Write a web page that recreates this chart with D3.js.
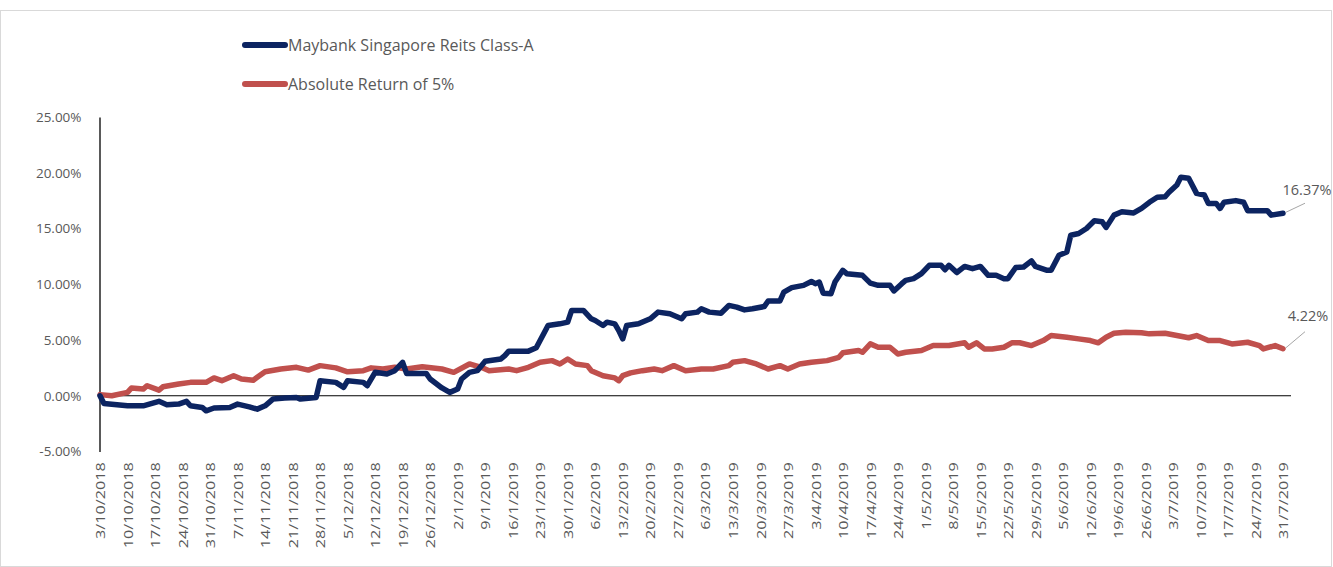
<!DOCTYPE html>
<html>
<head>
<meta charset="utf-8">
<script src="https://cdn.jsdelivr.net/npm/d3@7"></script>
<style>
  html, body { margin: 0; padding: 0; background: #fff; }
  svg { display: block; }
  text { font-family: "Open Sans", "Noto Sans", sans-serif; fill: #595959; }
</style>
</head>
<body>
<svg id="chart" width="1333" height="567"></svg>
<script>
// ---- data (values in %) ----
const seriesNames = ["Maybank Singapore Reits Class-A", "Absolute Return of 5%"];

const tickLabels = ["3/10/2018","10/10/2018","17/10/2018","24/10/2018","31/10/2018","7/11/2018","14/11/2018","21/11/2018","28/11/2018","5/12/2018","12/12/2018","19/12/2018","26/12/2018","2/1/2019","9/1/2019","16/1/2019","23/1/2019","30/1/2019","6/2/2019","13/2/2019","20/2/2019","27/2/2019","6/3/2019","13/3/2019","20/3/2019","27/3/2019","3/4/2019","10/4/2019","17/4/2019","24/4/2019","1/5/2019","8/5/2019","15/5/2019","22/5/2019","29/5/2019","5/6/2019","12/6/2019","19/6/2019","26/6/2019","3/7/2019","10/7/2019","17/7/2019","24/7/2019","31/7/2019"];

const yTicks = [-5, 0, 5, 10, 15, 20, 25];

const maybankDates = ["2018-10-03","2018-10-04","2018-10-10","2018-10-14","2018-10-18","2018-10-20","2018-10-23","2018-10-25","2018-10-26","2018-10-29","2018-10-30","2018-11-01","2018-11-05","2018-11-07","2018-11-10","2018-11-12","2018-11-14","2018-11-16","2018-11-19","2018-11-22","2018-11-23","2018-11-27","2018-11-28","2018-12-02","2018-12-04","2018-12-05","2018-12-09","2018-12-10","2018-12-12","2018-12-15","2018-12-17","2018-12-19","2018-12-20","2018-12-25","2018-12-26","2018-12-29","2018-12-31","2019-01-02","2019-01-03","2019-01-05","2019-01-07","2019-01-09","2019-01-13","2019-01-14","2019-01-15","2019-01-20","2019-01-22","2019-01-25","2019-01-28","2019-01-30","2019-01-31","2019-02-03","2019-02-05","2019-02-06","2019-02-08","2019-02-09","2019-02-11","2019-02-12","2019-02-13","2019-02-14","2019-02-17","2019-02-20","2019-02-22","2019-02-25","2019-02-28","2019-03-01","2019-03-04","2019-03-05","2019-03-07","2019-03-10","2019-03-12","2019-03-14","2019-03-16","2019-03-18","2019-03-21","2019-03-22","2019-03-25","2019-03-26","2019-03-28","2019-03-31","2019-04-02","2019-04-03","2019-04-04","2019-04-05","2019-04-07","2019-04-08","2019-04-10","2019-04-11","2019-04-15","2019-04-17","2019-04-19","2019-04-22","2019-04-23","2019-04-25","2019-04-26","2019-04-28","2019-04-30","2019-05-02","2019-05-05","2019-05-06","2019-05-07","2019-05-09","2019-05-11","2019-05-13","2019-05-15","2019-05-17","2019-05-19","2019-05-21","2019-05-22","2019-05-24","2019-05-26","2019-05-28","2019-05-29","2019-06-01","2019-06-02","2019-06-04","2019-06-06","2019-06-07","2019-06-09","2019-06-11","2019-06-13","2019-06-15","2019-06-16","2019-06-18","2019-06-20","2019-06-23","2019-06-25","2019-06-27","2019-06-29","2019-07-01","2019-07-02","2019-07-04","2019-07-05","2019-07-07","2019-07-09","2019-07-11","2019-07-12","2019-07-14","2019-07-15","2019-07-16","2019-07-19","2019-07-21","2019-07-22","2019-07-27","2019-07-28","2019-07-31"];

const maybankValues = [0.0,-0.7,-0.9,-0.9,-0.5,-0.8,-0.75,-0.5,-0.9,-1.05,
 -1.35,-1.1,-1.05,-0.75,-1.0,-1.2,-0.9,-0.3,-0.2,-0.15,
 -0.3,-0.15,1.35,1.2,0.75,1.35,1.2,0.9,2.1,1.95,
 2.25,3.0,2.0,2.0,1.5,0.7,0.3,0.6,1.5,2.1,
 2.25,3.1,3.3,3.6,4.0,4.0,4.3,6.3,6.45,6.6,
 7.65,7.65,6.9,6.75,6.3,6.6,6.45,5.85,5.1,6.3,
 6.45,6.9,7.5,7.35,6.9,7.35,7.5,7.8,7.5,7.4,
 8.1,7.95,7.7,7.8,8.0,8.5,8.5,9.3,9.7,9.9,
 10.25,10.05,10.2,9.2,9.15,10.2,11.25,10.95,10.8,10.1,
 9.9,9.9,9.4,10.05,10.35,10.5,10.95,11.7,11.7,11.3,
 11.7,11.05,11.6,11.4,11.6,10.8,10.8,10.5,10.5,11.5,
 11.55,12.1,11.6,11.25,11.25,12.6,12.9,14.4,14.55,15.0,
 15.7,15.6,15.1,16.2,16.5,16.4,16.8,17.35,17.8,17.85,
 18.25,18.9,19.6,19.5,18.15,18.0,17.25,17.25,16.8,17.35,
 17.5,17.35,16.6,16.6,16.2,16.37];

const absoluteDates = ["2018-10-03","2018-10-06","2018-10-10","2018-10-11","2018-10-14","2018-10-15","2018-10-18","2018-10-19","2018-10-23","2018-10-26","2018-10-30","2018-11-01","2018-11-03","2018-11-06","2018-11-08","2018-11-11","2018-11-12","2018-11-14","2018-11-18","2018-11-22","2018-11-25","2018-11-28","2018-12-02","2018-12-05","2018-12-09","2018-12-11","2018-12-14","2018-12-17","2018-12-20","2018-12-24","2018-12-29","2019-01-01","2019-01-05","2019-01-08","2019-01-10","2019-01-15","2019-01-17","2019-01-20","2019-01-23","2019-01-26","2019-01-28","2019-01-30","2019-02-01","2019-02-04","2019-02-05","2019-02-08","2019-02-11","2019-02-12","2019-02-13","2019-02-15","2019-02-18","2019-02-21","2019-02-23","2019-02-26","2019-03-01","2019-03-05","2019-03-08","2019-03-12","2019-03-13","2019-03-16","2019-03-19","2019-03-22","2019-03-25","2019-03-27","2019-03-30","2019-04-02","2019-04-06","2019-04-09","2019-04-10","2019-04-14","2019-04-15","2019-04-17","2019-04-19","2019-04-22","2019-04-24","2019-04-26","2019-04-30","2019-05-03","2019-05-07","2019-05-11","2019-05-12","2019-05-14","2019-05-16","2019-05-18","2019-05-21","2019-05-23","2019-05-25","2019-05-28","2019-05-31","2019-06-02","2019-06-06","2019-06-09","2019-06-12","2019-06-14","2019-06-16","2019-06-18","2019-06-21","2019-06-25","2019-06-27","2019-07-01","2019-07-04","2019-07-07","2019-07-09","2019-07-12","2019-07-15","2019-07-18","2019-07-22","2019-07-25","2019-07-26","2019-07-29","2019-07-31"];

const absoluteValues = [0.1,0.0,0.3,0.7,0.6,0.9,0.5,0.8,1.05,1.2,
 1.2,1.6,1.35,1.8,1.5,1.4,1.65,2.15,2.4,2.55,
 2.3,2.7,2.5,2.15,2.25,2.5,2.4,2.55,2.4,2.6,
 2.4,2.1,2.85,2.55,2.25,2.4,2.25,2.55,3.0,3.15,
 2.85,3.3,2.85,2.7,2.25,1.8,1.6,1.35,1.8,2.05,
 2.25,2.4,2.25,2.7,2.25,2.4,2.4,2.7,3.0,3.15,
 2.85,2.4,2.7,2.4,2.85,3.0,3.15,3.45,3.85,4.05,
 3.9,4.65,4.35,4.35,3.75,3.9,4.05,4.5,4.5,4.75,
 4.35,4.75,4.2,4.2,4.35,4.75,4.75,4.5,4.95,5.4,
 5.25,5.1,4.95,4.75,5.25,5.6,5.7,5.65,5.55,5.6,
 5.4,5.2,5.4,4.95,4.95,4.65,4.8,4.5,4.2,4.5,
 4.22];

const seriesColors = ["#0c2461", "#c0504d"];

// ---- drawing ----
const svg = d3.select("#chart");
const parseISO = d3.timeParse("%Y-%m-%d");
const parseLabel = d3.timeParse("%d/%m/%Y");

// outer chart border
svg.append("rect").attr("x", 0.5).attr("y", 10.5).attr("width", 1331).attr("height", 556)
  .attr("fill", "none").attr("stroke", "#d9d9d9");

const x = d3.scaleTime()
  .domain([parseISO("2018-10-03"), parseISO("2019-07-31")])
  .range([100, 1283]);
const y = d3.scaleLinear().domain([-5, 25]).range([451.5, 117]);

// y axis
const yAxis = d3.axisLeft(y).tickValues(yTicks).tickSize(0).tickPadding(18)
  .tickFormat(d => d.toFixed(2) + "%");
const gy = svg.append("g").attr("transform", "translate(99.5,0)").call(yAxis);
gy.select(".domain").attr("stroke", "#000").attr("stroke-width", 1.3);
gy.selectAll("text").style("font-size", "13.5px").style("font-family", "'Open Sans', sans-serif").attr("fill", "#595959");

// zero line
svg.append("line").attr("x1", 99).attr("x2", 1291).attr("y1", y(0)).attr("y2", y(0))
  .attr("stroke", "#000").attr("stroke-width", 1.2);

// x labels
const tickDates = tickLabels.map(parseLabel);
const xAxis = d3.axisBottom(x).tickValues(tickDates).tickSize(0)
  .tickFormat((d, i) => tickLabels[i]);
const gx = svg.append("g").attr("transform", `translate(0,${y(-5)})`).call(xAxis);
gx.select(".domain").remove();
gx.selectAll("text")
  .style("font-size", "13.5px").style("font-family", "'Open Sans', sans-serif").attr("fill", "#595959")
  .attr("text-anchor", "end")
  .attr("transform", "rotate(-90) scale(1.2,1)")
  .attr("x", -9).attr("y", 0).attr("dy", "0.35em");

// lines
const line = d3.line().x(d => x(d.date)).y(d => y(d.value)).curve(d3.curveLinear);
const series = [
  { name: seriesNames[0], color: seriesColors[0], pts: maybankDates.map((d, i) => ({ date: parseISO(d), value: maybankValues[i] })) },
  { name: seriesNames[1], color: seriesColors[1], pts: absoluteDates.map((d, i) => ({ date: parseISO(d), value: absoluteValues[i] })) }
];
svg.selectAll("path.series").data([series[1], series[0]]).join("path")
  .attr("class", "series")
  .attr("fill", "none")
  .attr("stroke", d => d.color)
  .attr("stroke-width", 5.5)
  .attr("stroke-linejoin", "round")
  .attr("stroke-linecap", "round")
  .attr("d", d => line(d.pts));

// end labels with leader lines
const leader = [{ dx: 22, dy: -10, tx: 24, ty: -18 }, { dx: 22, dy: -17, tx: 25, ty: -28 }];
series.forEach((s, k) => {
  const last = s.pts[s.pts.length - 1];
  const px = x(last.date), py = y(last.value), o = leader[k];
  svg.append("line").attr("x1", px + 3).attr("y1", py - 1).attr("x2", px + o.dx).attr("y2", py + o.dy)
    .attr("stroke", "#a6a6a6").attr("stroke-width", 1);
  svg.append("text").attr("x", px + o.tx).attr("y", py + o.ty)
    .attr("text-anchor", "middle")
    .style("font-size", "14.5px")
    .text(last.value.toFixed(2) + "%");
});

// legend
const legend = svg.append("g");
series.forEach((s, i) => {
  const ly = 45 + i * 39;
  legend.append("line").attr("x1", 245).attr("x2", 285).attr("y1", ly).attr("y2", ly)
    .attr("stroke", s.color).attr("stroke-width", 6).attr("stroke-linecap", "round");
  legend.append("text").attr("x", 288).attr("y", ly).attr("dy", "0.35em")
    .style("font-size", "16px").text(s.name);
});
</script>
</body>
</html>
